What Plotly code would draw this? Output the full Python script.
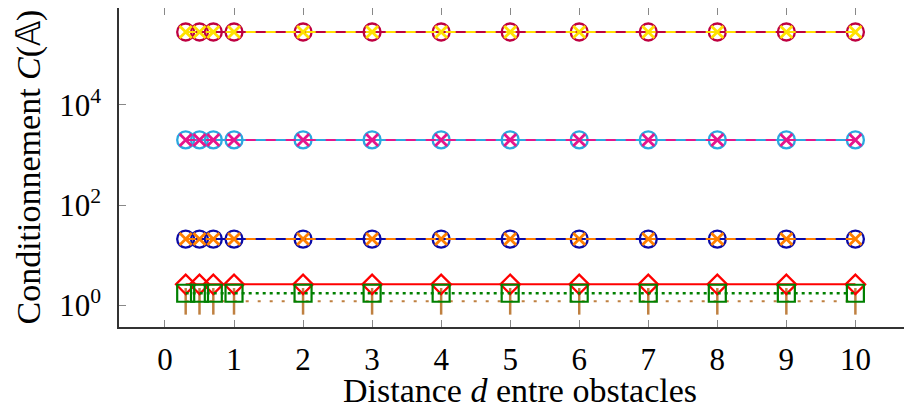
import plotly.graph_objects as go

# Data
distances = [0.3, 0.5, 0.7, 1, 2, 3, 4, 5, 6, 7, 8, 9, 10]
cond_a1 = [2.85e5] * 13   # purple circles
cond_a2 = [2.85e5] * 13   # yellow crosses
cond_b1 = [2000] * 13     # cyan circles
cond_b2 = [2000] * 13     # magenta crosses
cond_c1 = [21] * 13       # blue circles
cond_c2 = [21] * 13       # orange crosses
cond_d = [2.62] * 13      # red diamonds
cond_e = [1.74] * 13      # green squares
cond_f = [1.2] * 13       # brown bars

ytick_vals = [1, 100, 10000]
ytick_text = ["10<sup>0</sup>", "10<sup>2</sup>", "10<sup>4</sup>"]
xtick_vals = list(range(0, 11))
x_title = "Distance <i>d</i> entre obstacles"
y_title = "Conditionnement <i>C</i>(𝔸)"

FONT = "Liberation Serif"

fig = go.Figure()

def add(y, color, symbol, size, dash, lw=2, mlw=2):
    fig.add_trace(go.Scatter(
        x=distances, y=y, mode="lines+markers",
        line=dict(color=color, width=lw, dash=dash),
        marker=dict(symbol=symbol, size=size, color=color,
                    line=dict(color=color, width=mlw)),
        showlegend=False))

add(cond_f, "#BF8040", "line-ns-open", 19, "3px,9px", lw=2, mlw=2.5)
add(cond_d, "#FF0000", "diamond-open", 15, "solid", mlw=2.2)
add(cond_e, "#008000", "square-open", 17, "3px,4px", lw=2.5, mlw=2.2)

add(cond_c1, "#0A0AA8", "circle-open", 17, "solid", mlw=2.3)
add(cond_c2, "#FF8000", "x-thin-open", 12, "10px,10px", mlw=2.8)
add(cond_b1, "#2AA8E0", "circle-open", 17, "solid", mlw=2.3)
add(cond_b2, "#E6168C", "x-thin-open", 12, "10px,10px", mlw=2.8)
add(cond_a1, "#BF0040", "circle-open", 17, "solid", mlw=2.3)
add(cond_a2, "#FFE100", "x-thin-open", 12, "10px,10px", mlw=2.8)

fig.update_layout(
    width=904, height=402,
    margin=dict(l=111, r=0, t=0, b=83),
    paper_bgcolor="white", plot_bgcolor="white",
    font=dict(family=FONT, size=30, color="black"),
)
fig.update_xaxes(
    range=[-0.666, 10.82], tickvals=xtick_vals, automargin=False,
    ticks="inside", ticklen=7, tickcolor="#888888", tickwidth=1,
    showline=True, linecolor="#333333", linewidth=1.5, mirror="ticks",
    showgrid=False, zeroline=False,
    tickfont=dict(family=FONT, size=31), ticklabelstandoff=4,
)
fig.update_yaxes(
    type="log", range=[-0.433, 5.934], tickvals=ytick_vals, ticktext=ytick_text,
    automargin=False,
    ticks="inside", ticklen=7, tickcolor="#888888", tickwidth=1,
    showline=True, linecolor="#333333", linewidth=1.5, mirror=False,
    showgrid=False, zeroline=False,
    tickfont=dict(family=FONT, size=31), ticklabelstandoff=10,
)

fig.add_annotation(text=x_title, xref="paper", yref="paper", x=0.5, y=0,
                   xanchor="center", yanchor="middle", xshift=4, yshift=-63,
                   showarrow=False, font=dict(family=FONT, size=34))
fig.add_annotation(text=y_title, xref="paper", yref="paper", x=0, y=0.5,
                   xanchor="center", yanchor="middle", xshift=-91, textangle=-90,
                   showarrow=False, font=dict(family=FONT, size=34))

fig.write_html("out.html")
